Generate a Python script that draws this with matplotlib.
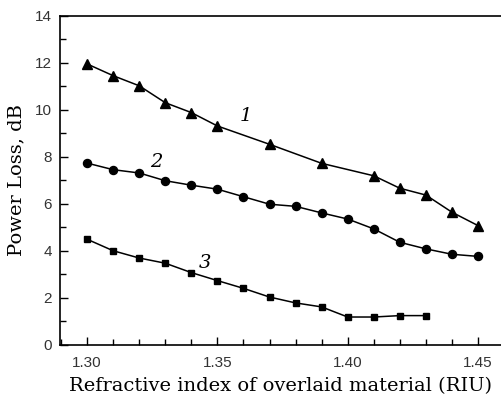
import matplotlib.pyplot as plt
from matplotlib.ticker import MultipleLocator

# refractive index of the overlay (RIU)
x_tri = [1.30, 1.31, 1.32, 1.33, 1.34, 1.35, 1.37, 1.39, 1.41, 1.42, 1.43, 1.44, 1.45]
loss_1 = [11.96, 11.46, 11.03, 10.31, 9.89, 9.32, 8.54, 7.73, 7.20, 6.67, 6.38, 5.65, 5.08]

x_circ = [1.30, 1.31, 1.32, 1.33, 1.34, 1.35, 1.36, 1.37, 1.38, 1.39, 1.40, 1.41, 1.42, 1.43, 1.44, 1.45]
loss_2 = [7.74, 7.46, 7.32, 6.99, 6.80, 6.63, 6.31, 5.99, 5.90, 5.62, 5.36, 4.94, 4.37, 4.09, 3.86, 3.77]

x_sq = [1.30, 1.31, 1.32, 1.33, 1.34, 1.35, 1.36, 1.37, 1.38, 1.39, 1.40, 1.41, 1.42, 1.43]
loss_3 = [4.50, 4.01, 3.70, 3.48, 3.08, 2.74, 2.41, 2.04, 1.79, 1.62, 1.19, 1.19, 1.25, 1.25]

curve_labels = ['1', '2', '3']
label_pos = [(1.361, 9.74), (1.3265, 7.79), (1.3453, 3.49)]

fig = plt.figure(figsize=(5.02, 4.01), dpi=100)
ax = fig.add_axes([0.1195, 0.1397, 0.8805, 0.8204])

ax.plot(x_tri, loss_1, '-^', color='black', linewidth=1.1, markersize=7)
ax.plot(x_circ, loss_2, '-o', color='black', linewidth=1.1, markersize=5.8)
ax.plot(x_sq, loss_3, '-s', color='black', linewidth=1.1, markersize=4.6)

for lab, (lx, ly) in zip(curve_labels, label_pos):
    ax.text(lx, ly, lab, fontsize=14, fontstyle='italic', family='DejaVu Serif',
            ha='center', va='center')

ax.set_xlim(1.2896, 1.4592)
ax.set_ylim(0, 14)
ax.xaxis.set_major_locator(MultipleLocator(0.05))
ax.xaxis.set_minor_locator(MultipleLocator(0.01))
ax.yaxis.set_major_locator(MultipleLocator(2))
ax.yaxis.set_minor_locator(MultipleLocator(1))
ax.tick_params(which='both', direction='in', width=1, labelsize=11)
ax.tick_params(which='major', length=6)
ax.tick_params(which='minor', length=4)
ax.tick_params(axis='x', pad=8)
ax.tick_params(axis='y', pad=6)
ax.xaxis.set_major_formatter(plt.FuncFormatter(lambda v, p: f'{v:.2f}'))
for lbl in ax.get_xticklabels() + ax.get_yticklabels():
    lbl.set_family('Liberation Sans')
    lbl.set_color('#333333')

ax.spines['right'].set_visible(False)
for side in ['left', 'bottom', 'top']:
    ax.spines[side].set_linewidth(1.2)

ax.set_xlabel('Refractive index of overlaid material (RIU)', family='DejaVu Serif', fontsize=14, labelpad=5)
ax.set_ylabel('Power Loss, dB', family='DejaVu Serif', fontsize=14, labelpad=7)

fig.savefig('out.png', dpi=100)
